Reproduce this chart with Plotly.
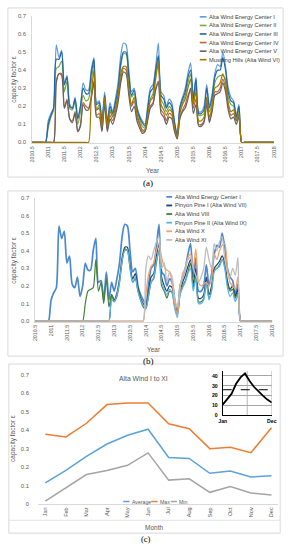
import plotly.graph_objects as go

W, H = 291, 550
def px(x): return x / W
def py(y): return 1 - y / H

# ---------------- data ----------------
T0 = 2010.5          # first monthly time stamp on panels (a)/(b)
N_MONTHS = 91        # 2010.5 ... 2018.0
year_ticks = [2010.5, 2011, 2011.5, 2012, 2012.5, 2013, 2013.5, 2014, 2014.5,
              2015, 2015.5, 2016, 2016.5, 2017, 2017.5, 2018]
year_labels = ["2010.5", "2011", "2011.5", "2012", "2012.5", "2013", "2013.5", "2014",
               "2014.5", "2015", "2015.5", "2016", "2016.5", "2017", "2017.5", "2018"]
cf_ticks = [0, 0.1, 0.2, 0.3, 0.4, 0.5, 0.6, 0.7]

# monthly capacity factor, from the series start month through Dec 2016
alta_i_start = 2011.0
alta_i = [0.12, 0.16, 0.19, 0.54, 0.47, 0.51, 0.33, 0.37, 0.21, 0.19, 0.25, 0.14,
          0.20, 0.33, 0.29, 0.29, 0.40, 0.47, 0.22, 0.23, 0.12, 0.28, 0.12, 0.22,
          0.17, 0.24, 0.33, 0.48, 0.55, 0.54, 0.40, 0.28, 0.30, 0.20, 0.15, 0.12,
          0.10, 0.20, 0.30, 0.32, 0.42, 0.55, 0.28, 0.26, 0.20, 0.24, 0.22, 0.12,
          0.04, 0.20, 0.25, 0.30, 0.38, 0.44, 0.25, 0.36, 0.17, 0.17, 0.20, 0.32,
          0.20, 0.27, 0.38, 0.43, 0.42, 0.50, 0.42, 0.30, 0.25, 0.23, 0.15, 0.21]
alta_ii_start = 2011.0
alta_ii = [0.08, 0.14, 0.18, 0.41, 0.42, 0.45, 0.28, 0.34, 0.19, 0.18, 0.23, 0.10,
           0.17, 0.26, 0.23, 0.24, 0.33, 0.44, 0.18, 0.21, 0.11, 0.24, 0.10, 0.18,
           0.15, 0.21, 0.28, 0.42, 0.49, 0.49, 0.34, 0.25, 0.27, 0.18, 0.13, 0.09,
           0.08, 0.16, 0.24, 0.27, 0.37, 0.46, 0.24, 0.21, 0.17, 0.20, 0.18, 0.09,
           0.03, 0.17, 0.22, 0.26, 0.33, 0.38, 0.22, 0.31, 0.15, 0.15, 0.16, 0.25,
           0.17, 0.22, 0.33, 0.36, 0.37, 0.37, 0.35, 0.25, 0.21, 0.20, 0.13, 0.18]
alta_iii_start = 2011.0
alta_iii = [0.10, 0.15, 0.19, 0.46, 0.46, 0.50, 0.32, 0.36, 0.20, 0.19, 0.24, 0.13,
            0.20, 0.30, 0.27, 0.27, 0.38, 0.46, 0.21, 0.22, 0.11, 0.26, 0.11, 0.20,
            0.16, 0.22, 0.30, 0.44, 0.50, 0.50, 0.37, 0.26, 0.29, 0.19, 0.14, 0.11,
            0.09, 0.18, 0.28, 0.30, 0.40, 0.48, 0.26, 0.24, 0.19, 0.22, 0.20, 0.11,
            0.04, 0.19, 0.24, 0.28, 0.36, 0.40, 0.24, 0.35, 0.16, 0.16, 0.18, 0.30,
            0.19, 0.25, 0.36, 0.40, 0.40, 0.47, 0.40, 0.28, 0.23, 0.22, 0.14, 0.20]
alta_iv_start = 2011.25
alta_iv = [0.34, 0.38, 0.38, 0.19, 0.24, 0.13, 0.12, 0.17, 0.06,
           0.10, 0.22, 0.20, 0.19, 0.25, 0.34, 0.15, 0.16, 0.07, 0.23, 0.07, 0.15,
           0.12, 0.17, 0.24, 0.35, 0.41, 0.40, 0.28, 0.20, 0.23, 0.14, 0.10, 0.06,
           0.06, 0.13, 0.20, 0.22, 0.30, 0.34, 0.18, 0.16, 0.12, 0.16, 0.15, 0.07,
           0.02, 0.14, 0.18, 0.21, 0.26, 0.29, 0.19, 0.24, 0.10, 0.10, 0.12, 0.23,
           0.12, 0.18, 0.28, 0.28, 0.30, 0.35, 0.30, 0.20, 0.15, 0.16, 0.12, 0.15]
alta_v_start = 2011.25
alta_v = [0.33, 0.38, 0.37, 0.19, 0.23, 0.13, 0.11, 0.16, 0.06,
          0.09, 0.21, 0.18, 0.18, 0.24, 0.33, 0.14, 0.14, 0.06, 0.21, 0.06, 0.13,
          0.10, 0.15, 0.22, 0.33, 0.39, 0.38, 0.26, 0.17, 0.20, 0.12, 0.08, 0.05,
          0.06, 0.12, 0.19, 0.21, 0.29, 0.33, 0.16, 0.14, 0.10, 0.14, 0.13, 0.06,
          0.02, 0.13, 0.17, 0.19, 0.24, 0.30, 0.16, 0.21, 0.09, 0.09, 0.11, 0.21,
          0.11, 0.17, 0.26, 0.27, 0.28, 0.33, 0.28, 0.18, 0.13, 0.14, 0.10, 0.14]
mustang_start = 2012 + 4 / 12
mustang = [0.25, 0.40, 0.18, 0.19, 0.09, 0.25, 0.09, 0.17,
           0.14, 0.19, 0.26, 0.38, 0.42, 0.42, 0.30, 0.21, 0.25, 0.16, 0.11, 0.07,
           0.07, 0.15, 0.23, 0.25, 0.35, 0.44, 0.21, 0.18, 0.15, 0.18, 0.17, 0.08,
           0.03, 0.16, 0.21, 0.24, 0.30, 0.35, 0.21, 0.28, 0.12, 0.12, 0.14, 0.25,
           0.14, 0.20, 0.30, 0.31, 0.33, 0.38, 0.33, 0.22, 0.17, 0.18, 0.12, 0.16]
pinyon_i_start = 2012 + 11 / 12
pinyon_i = [0.15,
            0.12, 0.16, 0.24, 0.36, 0.42, 0.42, 0.32, 0.24, 0.27, 0.19, 0.13, 0.10,
            0.08, 0.16, 0.25, 0.27, 0.37, 0.44, 0.25, 0.20, 0.17, 0.20, 0.19, 0.09,
            0.04, 0.17, 0.22, 0.26, 0.31, 0.35, 0.21, 0.30, 0.13, 0.13, 0.15, 0.25,
            0.15, 0.20, 0.30, 0.32, 0.34, 0.37, 0.33, 0.23, 0.18, 0.20, 0.14, 0.18]
alta_viii_start = 2012 + 1 / 12
alta_viii = [0.10, 0.17, 0.18, 0.19, 0.35, 0.17, 0.22, 0.10, 0.24, 0.08, 0.15,
             0.11, 0.14, 0.22, 0.34, 0.41, 0.40, 0.30, 0.22, 0.24, 0.17, 0.12, 0.08,
             0.07, 0.14, 0.22, 0.24, 0.33, 0.40, 0.20, 0.17, 0.13, 0.17, 0.16, 0.08,
             0.04, 0.15, 0.20, 0.23, 0.28, 0.33, 0.19, 0.26, 0.11, 0.11, 0.13, 0.22,
             0.13, 0.18, 0.29, 0.30, 0.32, 0.35, 0.31, 0.21, 0.17, 0.18, 0.13, 0.16]
pinyon_ii_start = 2012 + 11 / 12
pinyon_ii = [0.12,
             0.11, 0.15, 0.22, 0.34, 0.40, 0.40, 0.30, 0.22, 0.25, 0.17, 0.12, 0.09,
             0.07, 0.14, 0.22, 0.25, 0.34, 0.40, 0.22, 0.18, 0.15, 0.18, 0.16, 0.07,
             0.02, 0.15, 0.19, 0.22, 0.27, 0.30, 0.17, 0.24, 0.10, 0.10, 0.12, 0.22,
             0.12, 0.17, 0.28, 0.30, 0.31, 0.35, 0.30, 0.19, 0.14, 0.16, 0.11, 0.15]
alta_x_start = 2014.0
alta_x = [0.15, 0.26, 0.31, 0.33, 0.40, 0.44, 0.36, 0.31, 0.29, 0.28, 0.22, 0.10,
          0.04, 0.18, 0.27, 0.30, 0.36, 0.38, 0.30, 0.41, 0.22, 0.20, 0.21, 0.22,
          0.20, 0.25, 0.38, 0.35, 0.40, 0.43, 0.44, 0.30, 0.22, 0.20, 0.18, 0.25]
alta_xi_start = 2014.0
alta_xi = [0.30, 0.37, 0.35, 0.40, 0.45, 0.48, 0.30, 0.33, 0.22, 0.28, 0.25, 0.12,
           0.08, 0.20, 0.25, 0.30, 0.35, 0.36, 0.30, 0.26, 0.22, 0.25, 0.30, 0.42,
           0.35, 0.30, 0.44, 0.40, 0.45, 0.48, 0.35, 0.28, 0.25, 0.30, 0.26, 0.36]

# panel (c)
months = ["Jan", "Feb", "Mar", "Apr", "May", "Jun", "Jul", "Aug", "Sep", "Oct", "Nov", "Dec"]
cf_average = [0.115, 0.182, 0.258, 0.325, 0.372, 0.405, 0.252, 0.247, 0.167, 0.179, 0.147, 0.153]
cf_max = [0.378, 0.363, 0.437, 0.538, 0.546, 0.547, 0.434, 0.408, 0.300, 0.308, 0.278, 0.413]
cf_min = [0.016, 0.090, 0.160, 0.182, 0.210, 0.277, 0.130, 0.137, 0.064, 0.095, 0.060, 0.050]
inset_values = [11, 16, 22, 32, 38.5, 42.5, 35, 29, 24, 20, 16, 13]
inset_mean = 26
inset_ticks = [0, 10, 20, 30, 40]

# ---------------- build ----------------
times = [T0 + i / 12 for i in range(N_MONTHS)]

def full_series(start, vals):
    i0 = round((start - T0) * 12)
    out = [0.0] * N_MONTHS
    for k, v in enumerate(vals):
        out[i0 + k] = v
    return out

GRAY = "#595959"
FONT = "Liberation Sans"

panel_a = [
    ("Alta Wind Energy Center I", alta_i_start, alta_i, "#5B9BD5", 1.2),
    ("Alta Wind Energy Center II", alta_ii_start, alta_ii, "#70AD47", 1.2),
    ("Alta Wind Energy Center III", alta_iii_start, alta_iii, "#2364A6", 1.2),
    ("Alta Wind Energy Center IV", alta_iv_start, alta_iv, "#C8642E", 1.2),
    ("Alta Wind Energy Center V", alta_v_start, alta_v, "#636363", 1.2),
    ("Mustang Hills (Alta Wind VI)", mustang_start, mustang, "#A07800", 1.2),
]
panel_b = [
    ("Alta Wind Energy Center I", alta_i_start, alta_i, "#4A89CF", 1.7),
    ("Pinyon Pine I (Alta Wind VII)", pinyon_i_start, pinyon_i, "#203F73", 1.2),
    ("Alta Wind VIII", alta_viii_start, alta_viii, "#43803A", 1.2),
    ("Pinyon Pine II (Alta Wind IX)", pinyon_ii_start, pinyon_ii, "#5DB2E6", 1.2),
    ("Alta Wind X", alta_x_start, alta_x, "#F4A266", 1.3),
    ("Alta Wind XI", alta_xi_start, alta_xi, "#BDBDBD", 1.3),
]

fig = go.Figure()
for name, st, vals, col, lw in panel_a:
    fig.add_trace(go.Scatter(x=times, y=full_series(st, vals), mode="lines", name=name,
                             line=dict(color=col, width=lw, shape="spline", smoothing=0.7),
                             xaxis="x", yaxis="y", showlegend=False))
for name, st, vals, col, lw in panel_b:
    fig.add_trace(go.Scatter(x=times, y=full_series(st, vals), mode="lines", name=name,
                             line=dict(color=col, width=lw, shape="spline", smoothing=0.7),
                             xaxis="x2", yaxis="y2", showlegend=False))

panel_c = [("Average", cf_average, "#5BA3D9"), ("Max", cf_max, "#ED7D31"), ("Min", cf_min, "#A5A5A5")]
for name, vals, col in panel_c:
    fig.add_trace(go.Scatter(x=list(range(12)), y=vals, mode="lines", name=name,
                             line=dict(color=col, width=1.5), xaxis="x3", yaxis="y3", showlegend=False))

fig.add_trace(go.Scatter(x=list(range(12)), y=inset_values, mode="lines",
                         line=dict(color="black", width=1.8), xaxis="x4", yaxis="y4", showlegend=False))
fig.add_trace(go.Scatter(x=[0, 11], y=[inset_mean, inset_mean], mode="lines",
                         line=dict(color="black", width=1, dash="dash"), xaxis="x4", yaxis="y4", showlegend=False))

tickf = dict(family=FONT, size=5.3, color=GRAY)
ytickf = dict(family=FONT, size=5.8, color=GRAY)

def time_xaxis(x0, x1, anchor):
    return dict(domain=[px(x0), px(x1)], range=[2010.5, 2018], tickmode="array", tickvals=year_ticks,
                ticktext=year_labels, tickangle=-90, tickfont=tickf, showgrid=False, zeroline=False,
                showline=True, linecolor="#d9d9d9", linewidth=1, ticks="", anchor=anchor)

def cf_yaxis(y0, y1, anchor, labels):
    return dict(domain=[py(y1), py(y0)], range=[-0.004, 0.702], tickmode="array", tickvals=cf_ticks,
                ticktext=labels, tickfont=ytickf, showgrid=False, zeroline=False,
                showline=True, linecolor="#d9d9d9", linewidth=1, ticks="", ticklabelstandoff=4,
                anchor=anchor)

labels_1f = ["0.0", "0.1", "0.2", "0.3", "0.4", "0.5", "0.6", "0.7"]
labels_c = ["0", "0.1", "0.2", "0.3", "0.4", "0.5", "0.6", "0.7"]

fig.update_layout(
    width=W, height=H, autosize=False, margin=dict(l=0, r=0, t=0, b=0),
    paper_bgcolor="white", plot_bgcolor="white", showlegend=False,
    xaxis=time_xaxis(29, 278.5, "y"),
    yaxis=cf_yaxis(12.7, 141.7, "x", labels_1f),
    xaxis2=time_xaxis(32.3, 276.7, "y2"),
    yaxis2=cf_yaxis(196.7, 322.3, "x2", labels_1f),
    xaxis3=dict(domain=[px(35), px(283)], range=[-0.36, 11.33], tickmode="array",
                tickvals=list(range(12)), ticktext=months, tickangle=-90,
                tickfont=dict(family=FONT, size=5.5, color=GRAY), showgrid=False, zeroline=False,
                showline=True, linecolor="#d9d9d9", ticks="", anchor="y3"),
    yaxis3=dict(domain=[py(506.7), py(375.7)], range=[0, 0.7], tickmode="array", tickvals=cf_ticks,
                ticktext=labels_c, tickfont=ytickf, showgrid=False, zeroline=False,
                showline=False, ticks="", ticklabelstandoff=8, anchor="x3"),
    xaxis4=dict(domain=[px(225.7), px(276.3)], range=[0, 11], tickmode="array", tickvals=[0, 11],
                ticktext=["Jan", "Dec"], tickfont=dict(family=FONT, size=5.2, color="black", weight="bold"),
                showgrid=False, zeroline=False, showline=True, linecolor="black", linewidth=1,
                ticks="", anchor="y4"),
    yaxis4=dict(domain=[py(417), py(372)], range=[0, 45], tickmode="array", tickvals=inset_ticks,
                tickfont=dict(family=FONT, size=5.2, color="black", weight="bold"),
                showgrid=True, gridcolor="#a6a6a6", gridwidth=0.8, zeroline=False, showline=True,
                linecolor="black", linewidth=1, ticks="", ticklabelstandoff=3, anchor="x4"),
)

shapes = []
# chart-area frames
for (x0, y0, x1, y1) in [(4, 5, 288, 176), (4, 190, 288, 357), (5, 365, 285, 536)]:
    shapes.append(dict(type="rect", xref="paper", yref="paper", x0=px(x0), x1=px(x1),
                       y0=py(y1), y1=py(y0), line=dict(color="#d9d9d9", width=1)))
shapes.append(dict(type="line", xref="paper", yref="paper", x0=px(5), x1=px(285),
                   y0=py(523), y1=py(523), line=dict(color="#e3e3e3", width=1)))
# inset: vertical gridline and right edge
shapes.append(dict(type="line", xref="x4", yref="y4", x0=5.5, x1=5.5, y0=0, y1=45,
                   line=dict(color="#a6a6a6", width=0.8), layer="below"))
shapes.append(dict(type="line", xref="x4", yref="y4", x0=11, x1=11, y0=0, y1=45,
                   line=dict(color="#a6a6a6", width=0.8), layer="below"))

annotations = []
def text(x, y, s, size, color=GRAY, xanchor="center", angle=0, family=FONT, weight="normal"):
    annotations.append(dict(x=px(x), y=py(y), xref="paper", yref="paper", text=s, showarrow=False,
                            xanchor=xanchor, yanchor="middle", textangle=angle,
                            font=dict(family=family, size=size, color=color, weight=weight)))

# manual legends
leg_a_y = [14, 22.7, 31.3, 40, 48.7, 57.3]
for (name, st, vals, col, lw), yy in zip(panel_a, leg_a_y):
    shapes.append(dict(type="line", xref="paper", yref="paper", x0=px(202), x1=px(209),
                       y0=py(yy), y1=py(yy), line=dict(color=col, width=1.6)))
    text(209.8, yy, name, 5.7, color="#404040", xanchor="left")
leg_b_y = [196, 204.7, 213.4, 222.1, 230.8, 239.5]
for (name, st, vals, col, lw), yy in zip(panel_b, leg_b_y):
    shapes.append(dict(type="line", xref="paper", yref="paper", x0=px(167.5), x1=px(173.5),
                       y0=py(yy), y1=py(yy), line=dict(color=col, width=1.8)))
    text(174.3, yy, name, 5.7, color="#404040", xanchor="left")
for (name, vals, col), (lx, tx) in zip(panel_c, [(123, 130), (152, 159), (172, 179)]):
    shapes.append(dict(type="line", xref="paper", yref="paper", x0=px(lx), x1=px(lx + 6.5),
                       y0=py(504), y1=py(504), line=dict(color=col, width=1.5)))
    text(tx, 504, name, 5.2, xanchor="left")

# axis titles, chart title, captions
for yy in (77, 260, 440):
    text(10, yy, "capacity factor ε", 6.5, angle=-90)
text(154, 169, "Year", 6.5)
text(155, 350, "Year", 6.5)
text(155, 530, "Month", 6.5)
text(143.5, 379.5, "Alta Wind I to XI", 6.8)
text(149, 181.5, "(a)", 9, color="black", family="Liberation Serif")
text(149, 362, "(b)", 9, color="black", family="Liberation Serif")
text(147, 542, "(c)", 8.5, color="black", family="Liberation Serif")

fig.update_layout(shapes=shapes, annotations=annotations)
fig.write_html("out.html", config={"displayModeBar": False},
               post_script="document.body.style.margin='0px';document.body.style.overflow='hidden';")
